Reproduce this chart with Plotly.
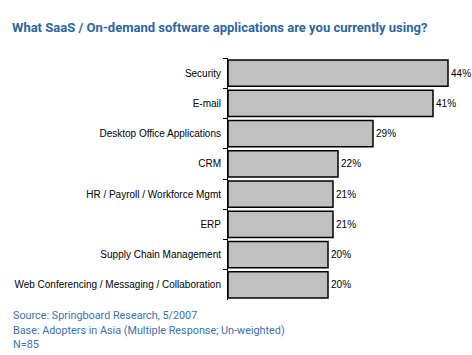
import plotly.graph_objects as go

categories = ["Security", "E-mail", "Desktop Office Applications", "CRM",
              "HR / Payroll / Workforce Mgmt", "ERP", "Supply Chain Management",
              "Web Conferencing / Messaging / Collaboration"]
values = [44, 41, 29, 22, 21, 21, 20, 20]
value_labels = [f"{v}%" for v in values]

title_text = "What SaaS / On-demand software applications are you currently using?"
footnote_lines = ["Source: Springboard Research, 5/2007",
                  "Base: Adopters in Asia (Multiple Response; Un-weighted)",
                  "N=85"]
footnote_y_px = [315, 330, 344]

W, H = 472, 355
ml, mr, mt, mb = 228, 4, 58, 55
blue = "#2a66a0"
blue_light = "#3a72ad"
cond = "Roboto, Liberation Sans, Arial, sans-serif"
ph = H - mt - mb
pw = W - ml - mr

fig = go.Figure(go.Bar(
    x=values, y=categories, orientation="h",
    marker=dict(color="#c0c0c0", line=dict(color="black", width=1.5)),
    text=value_labels, textposition="outside", cliponaxis=False,
    textfont=dict(family="Liberation Sans, Arial, sans-serif", size=10, color="black"),
    hoverinfo="skip",
))

annotations = [dict(text=t, xref="paper", yref="paper",
                    x=(11 - ml) / pw, y=-(py - (H - mb)) / ph,
                    xanchor="left", yanchor="middle", align="left", showarrow=False,
                    font=dict(family=cond, size=10.8, color=blue_light))
               for t, py in zip(footnote_lines, footnote_y_px)]

fig.update_layout(
    width=W, height=H,
    margin=dict(l=ml, r=mr, t=mt, b=mb, pad=0),
    paper_bgcolor="white", plot_bgcolor="white",
    bargap=0.14, showlegend=False,
    title=dict(text=title_text, x=12 / W, xanchor="left", xref="container",
               y=1 - 27 / H, yanchor="middle", yref="container",
               font=dict(family=cond, size=13, color=blue, weight="bold")),
    xaxis=dict(range=[0, pw / 5], visible=False, showgrid=False, zeroline=False),
    yaxis=dict(categoryorder="array", categoryarray=categories, autorange="reversed",
               showline=True, linecolor="black", linewidth=1,
               ticks="outside", tickson="boundaries", ticklen=4, tickcolor="black",
               ticklabelstandoff=4, showgrid=False, automargin=False,
               tickfont=dict(family="Liberation Sans, Arial, sans-serif", size=10, color="black")),
    annotations=annotations,
)

fig.write_html("out.html", config={"displayModeBar": False},
               post_script="document.body.style.margin='0';")
